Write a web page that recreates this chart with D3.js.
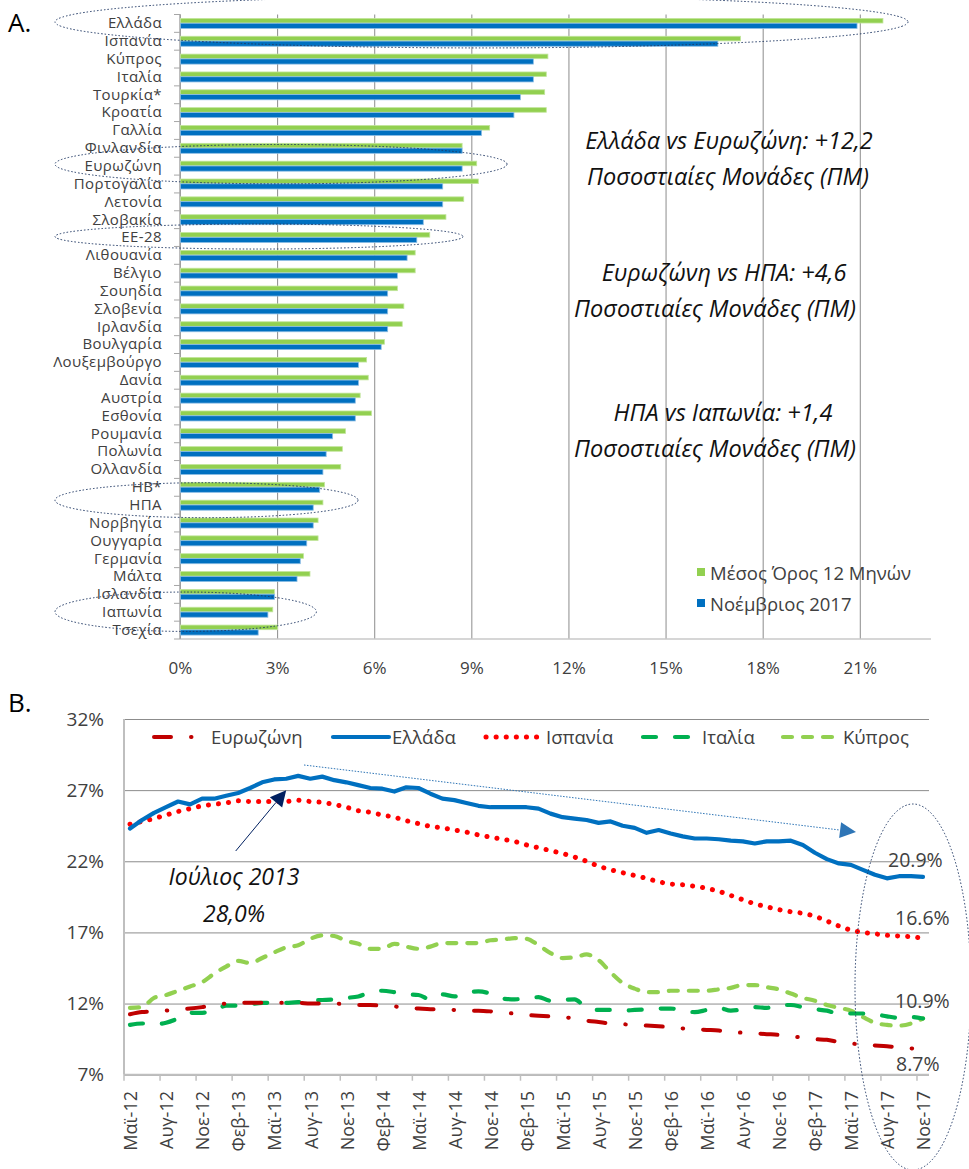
<!DOCTYPE html>
<html>
<head>
<meta charset="utf-8">
<script src="https://cdn.jsdelivr.net/npm/d3@7"></script>
<style>
  body { margin: 0; background: #fff; }
  text { font-family: "Open Sans", sans-serif; fill: #404040; }
</style>
</head>
<body>
<script>
const w = 969;
const h = 1169;

// ---- A. unemployment by country ----
const countries = ["Ελλάδα", "Ισπανία", "Κύπρος", "Ιταλία", "Τουρκία*", "Κροατία", "Γαλλία", "Φινλανδία",
    "Ευρωζώνη", "Πορτογαλία", "Λετονία", "Σλοβακία", "ΕΕ-28", "Λιθουανία", "Βέλγιο", "Σουηδία", "Σλοβενία",
    "Ιρλανδία", "Βουλγαρία", "Λουξεμβούργο", "Δανία", "Αυστρία", "Εσθονία", "Ρουμανία", "Πολωνία",
    "Ολλανδία", "ΗΒ*", "ΗΠΑ", "Νορβηγία", "Ουγγαρία", "Γερμανία", "Μάλτα", "Ισλανδία", "Ιαπωνία", "Τσεχία"];
const avg12m = [21.7, 17.3, 11.35, 11.3, 11.25, 11.3, 9.55, 8.7, 9.15, 9.2, 8.75, 8.2, 7.7, 7.25, 7.25,
    6.7, 6.9, 6.85, 6.3, 5.75, 5.8, 5.55, 5.9, 5.1, 5.0, 4.95, 4.45, 4.4, 4.25, 4.25, 3.8, 4.0, 2.9, 2.85, 3.0];
const nov2017 = [20.9, 16.6, 10.9, 10.9, 10.5, 10.3, 9.3, 8.7, 8.7, 8.1, 8.1, 7.5, 7.3, 7.0, 6.7,
    6.4, 6.4, 6.4, 6.2, 5.5, 5.5, 5.4, 5.4, 4.7, 4.5, 4.4, 4.3, 4.1, 4.1, 3.9, 3.7, 3.6, 2.9, 2.7, 2.4];
const xTicksA = [0, 3, 6, 9, 12, 15, 18, 21];
const legendA = ["Μέσος Όρος 12 Μηνών", "Νοέμβριος 2017"];
const notesA = [
    ["Ελλάδα vs Ευρωζώνη: +12,2", "Ποσοστιαίες Μονάδες (ΠΜ)"],
    ["Ευρωζώνη vs ΗΠΑ: +4,6", "Ποσοστιαίες Μονάδες (ΠΜ)"],
    ["ΗΠΑ vs Ιαπωνία: +1,4", "Ποσοστιαίες Μονάδες (ΠΜ)"]
];

// ---- B. monthly unemployment ----
const months = [
    "Μαϊ-12", "Ιουν-12", "Ιουλ-12", "Αυγ-12", "Σεπ-12", "Οκτ-12", "Νοε-12", "Δεκ-12",
    "Ιαν-13", "Φεβ-13", "Μαρ-13", "Απρ-13", "Μαϊ-13", "Ιουν-13", "Ιουλ-13", "Αυγ-13", "Σεπ-13", "Οκτ-13", "Νοε-13", "Δεκ-13",
    "Ιαν-14", "Φεβ-14", "Μαρ-14", "Απρ-14", "Μαϊ-14", "Ιουν-14", "Ιουλ-14", "Αυγ-14", "Σεπ-14", "Οκτ-14", "Νοε-14", "Δεκ-14",
    "Ιαν-15", "Φεβ-15", "Μαρ-15", "Απρ-15", "Μαϊ-15", "Ιουν-15", "Ιουλ-15", "Αυγ-15", "Σεπ-15", "Οκτ-15", "Νοε-15", "Δεκ-15",
    "Ιαν-16", "Φεβ-16", "Μαρ-16", "Απρ-16", "Μαϊ-16", "Ιουν-16", "Ιουλ-16", "Αυγ-16", "Σεπ-16", "Οκτ-16", "Νοε-16", "Δεκ-16",
    "Ιαν-17", "Φεβ-17", "Μαρ-17", "Απρ-17", "Μαϊ-17", "Ιουν-17", "Ιουλ-17", "Αυγ-17", "Σεπ-17", "Οκτ-17", "Νοε-17"];
const tickMonths = ["Μαϊ-12", "Αυγ-12", "Νοε-12", "Φεβ-13", "Μαϊ-13", "Αυγ-13", "Νοε-13", "Φεβ-14", "Μαϊ-14",
    "Αυγ-14", "Νοε-14", "Φεβ-15", "Μαϊ-15", "Αυγ-15", "Νοε-15", "Φεβ-16", "Μαϊ-16", "Αυγ-16", "Νοε-16",
    "Φεβ-17", "Μαϊ-17", "Αυγ-17", "Νοε-17"];
const yTicksB = [7, 12, 17, 22, 27, 32];

const eurozone = [11.25, 11.4, 11.45, 11.5, 11.6, 11.65, 11.75, 11.9, 12.0, 12.05, 12.05, 12.05, 12.05, 12.05,
    12.05, 12.0, 12.0, 12.0, 11.95, 11.9, 11.9, 11.85, 11.8, 11.7, 11.65, 11.6, 11.6, 11.55, 11.5, 11.5, 11.45,
    11.35, 11.3, 11.2, 11.15, 11.1, 11.05, 10.95, 10.8, 10.7, 10.6, 10.55, 10.5, 10.45, 10.4, 10.35, 10.25, 10.2,
    10.15, 10.1, 10.0, 9.95, 9.9, 9.85, 9.8, 9.7, 9.6, 9.5, 9.45, 9.3, 9.2, 9.1, 9.05, 9.0, 8.9, 8.85, 8.75];
const greece = [24.3, 24.9, 25.4, 25.8, 26.2, 26.0, 26.4, 26.4, 26.6, 26.8, 27.15, 27.55, 27.75, 27.8, 28.0,
    27.8, 27.95, 27.7, 27.55, 27.35, 27.15, 27.1, 26.9, 27.2, 27.15, 26.75, 26.4, 26.3, 26.1, 25.9, 25.8, 25.8,
    25.8, 25.8, 25.7, 25.35, 25.1, 25.0, 24.9, 24.7, 24.8, 24.5, 24.35, 24.0, 24.2, 23.95, 23.75, 23.6, 23.6,
    23.55, 23.45, 23.4, 23.25, 23.4, 23.4, 23.45, 23.15, 22.6, 22.15, 21.85, 21.75, 21.4, 21.05, 20.8, 20.95,
    20.95, 20.9];
const spain = [24.6, 24.8, 25.0, 25.25, 25.5, 25.7, 25.9, 26.0, 26.1, 26.25, 26.2, 26.2, 26.2, 26.2, 26.3,
    26.2, 26.15, 26.0, 25.8, 25.55, 25.45, 25.25, 25.1, 24.85, 24.65, 24.45, 24.35, 24.2, 24.05, 23.85, 23.7,
    23.55, 23.4, 23.15, 22.95, 22.75, 22.55, 22.3, 22.0, 21.65, 21.4, 21.2, 21.0, 20.8, 20.55, 20.4, 20.35,
    20.25, 20.1, 19.9, 19.6, 19.3, 19.0, 18.8, 18.6, 18.45, 18.35, 18.15, 17.8, 17.45, 17.15, 17.0, 16.9, 16.8,
    16.75, 16.7, 16.6];
const italy = [10.5, 10.6, 10.55, 10.65, 10.95, 11.35, 11.35, 11.5, 11.85, 11.85, 11.95, 12.05, 12.05, 12.05,
    12.1, 12.2, 12.25, 12.3, 12.4, 12.5, 12.8, 12.9, 12.8, 12.65, 12.6, 12.3, 12.65, 12.5, 12.8, 12.85, 12.7,
    12.35, 12.3, 12.35, 12.45, 12.2, 12.25, 12.3, 11.7, 11.55, 11.55, 11.5, 11.55, 11.6, 11.65, 11.65, 11.5,
    11.4, 11.55, 11.7, 11.5, 11.6, 11.75, 11.7, 11.9, 11.9, 11.75, 11.6, 11.5, 11.3, 11.3, 11.3, 11.25, 11.1,
    11.0, 11.05, 10.95];
const cyprus = [11.7, 11.75, 12.4, 12.6, 12.9, 13.2, 13.5, 14.1, 14.6, 15.0, 14.85, 15.2, 15.6, 15.95, 16.1,
    16.55, 16.8, 16.75, 16.4, 16.2, 15.85, 15.85, 16.2, 16.0, 15.85, 16.0, 16.25, 16.25, 16.25, 16.25, 16.45,
    16.5, 16.6, 16.55, 16.1, 15.55, 15.2, 15.25, 15.45, 15.05, 14.2, 13.45, 13.05, 12.8, 12.8, 12.9, 12.9, 12.9,
    12.9, 13.0, 13.1, 13.3, 13.3, 13.15, 13.0, 12.7, 12.4, 12.2, 11.9, 11.7, 11.5, 11.05, 10.65, 10.5, 10.45,
    10.6, 10.95];
const seriesNames = ["Ευρωζώνη", "Ελλάδα", "Ισπανία", "Ιταλία", "Κύπρος"];
const endLabels = ["20.9%", "16.6%", "10.9%", "8.7%"];

const svg = d3.select('body').append('svg').attr('width', w).attr('height', h);
svg.append('rect').attr('width', w).attr('height', h).attr('fill', '#fff');

// ================= chart A =================
const xA = d3.scaleLinear().domain([0, 23.2]).range([180, 931]);
const yA = d3.scaleBand().domain(countries).range([14.5, 639]);
const stepA = yA.step();

const gridA = svg.append('g')
    .attr('transform', 'translate(0,639)')
    .call(d3.axisBottom(xA).tickValues(xTicksA).tickSize(-(639 - 14.5)).tickPadding(23).tickFormat(d => d + '%'));
gridA.select('.domain').remove();
gridA.selectAll('line').attr('stroke', '#8c8c8c');
gridA.selectAll('text').attr('font-size', '17px').attr('font-family', '"Open Sans", sans-serif').attr('fill', '#404040');

svg.append('line').attr('x1', 180).attr('x2', 931).attr('y1', 639).attr('y2', 639).attr('stroke', '#c8c8c8').attr('stroke-width', 1.5);
svg.append('line').attr('x1', 180).attr('x2', 180).attr('y1', 14.5).attr('y2', 639).attr('stroke', '#a6a6a6').attr('stroke-width', 1.5);

// category tick marks on band edges
svg.append('g').selectAll('line')
    .data(d3.range(countries.length + 1))
    .enter()
    .append('line')
    .attr('x1', 174).attr('x2', 180)
    .attr('y1', k => 14.5 + k * stepA).attr('y2', k => 14.5 + k * stepA)
    .attr('stroke', '#a6a6a6');

const labA = svg.append('g')
    .attr('transform', 'translate(180,0)')
    .call(d3.axisLeft(yA).tickSize(0).tickPadding(18));
labA.select('.domain').remove();
labA.selectAll('text')
    .attr('font-size', '15px')
    .attr('letter-spacing', '0.4px')
    .attr('font-family', '"Open Sans", sans-serif')
    .attr('fill', '#404040');

const barsA = svg.append('g');
barsA.selectAll('.g')
    .data(countries)
    .enter()
    .append('rect')
    .attr('x', xA(0) + 0.5)
    .attr('y', d => yA(d) + stepA / 2 - 5)
    .attr('width', (d, i) => xA(avg12m[i]) - xA(0))
    .attr('height', 4.6)
    .attr('fill', '#92D050')
    .attr('stroke', '#c2e59c').attr('stroke-width', 0.8);
barsA.selectAll('.b')
    .data(countries)
    .enter()
    .append('rect')
    .attr('x', xA(0) + 0.5)
    .attr('y', d => yA(d) + stepA / 2 - 0.2)
    .attr('width', (d, i) => xA(nov2017[i]) - xA(0))
    .attr('height', 5.2)
    .attr('fill', '#0070C0')
    .attr('stroke', '#8cbde4').attr('stroke-width', 0.8);

// legend A
const legA = svg.append('g');
legA.selectAll('rect')
    .data(legendA)
    .enter()
    .append('rect')
    .attr('x', 697).attr('y', (d, i) => 568 + i * 31)
    .attr('width', 8).attr('height', 8)
    .attr('fill', (d, i) => i === 0 ? '#92D050' : '#0070C0');
legA.selectAll('text')
    .data(legendA)
    .enter()
    .append('text')
    .attr('x', 710).attr('y', (d, i) => 580 + i * 30.5)
    .attr('font-size', '18.5px')
    .text(d => d);

// notes A
const noteX = [[729, 728], [724, 715], [723, 715]];
const noteY = [149, 281, 421];
notesA.forEach((pair, i) => {
    pair.forEach((t, j) => {
        svg.append('text')
            .attr('x', noteX[i][j]).attr('y', noteY[i] + j * 36)
            .attr('text-anchor', 'middle')
            .attr('font-size', '23.5px')
            .attr('font-style', 'italic')
            .style('fill', '#111')
            .text(t);
    });
});

// dotted ellipses
const ringsA = [
    {c: "Ελλάδα", cx: 481.5, dy: -1.5, rx: 426.5, ry: 26},
    {c: "Ευρωζώνη", cx: 281, dy: -2, rx: 226, ry: 19.7},
    {c: "ΕΕ-28", cx: 259, dy: -1, rx: 204, ry: 12.5},
    {c: "ΗΠΑ", cx: 206.5, dy: -5, rx: 151.5, ry: 17.5},
    {c: "Ιαπωνία", cx: 185.7, dy: -0.5, rx: 130.7, ry: 19.7}
];
svg.append('g').selectAll('ellipse')
    .data(ringsA)
    .enter()
    .append('ellipse')
    .attr('cx', d => d.cx)
    .attr('cy', d => yA(d.c) + stepA / 2 + d.dy)
    .attr('rx', d => d.rx).attr('ry', d => d.ry)
    .attr('fill', 'none')
    .attr('stroke', '#203864')
    .attr('stroke-width', 1)
    .attr('stroke-dasharray', '1.5 2');

svg.append('text').attr('x', 8).attr('y', 32).attr('font-size', '26px').style('fill', '#000').text('A.');

// ================= chart B =================
const xB = d3.scaleBand().domain(months).range([124, 929]);
const bw = xB.bandwidth();
const yB = d3.scaleLinear().domain([7, 32]).range([1074.7, 719]);
const mx = i => xB(months[i]) + bw / 2;

const gridB = svg.append('g')
    .attr('transform', 'translate(124,0)')
    .call(d3.axisLeft(yB).tickValues(yTicksB).tickSize(-(929 - 124)).tickPadding(20).tickFormat(d => d + '%'));
gridB.select('.domain').remove();
gridB.selectAll('line').attr('stroke', '#8c8c8c');
gridB.selectAll('text').attr('font-size', '19px').attr('font-family', '"Open Sans", sans-serif').attr('fill', '#404040');

svg.append('line').attr('x1', 124).attr('x2', 929).attr('y1', yB(7)).attr('y2', yB(7)).attr('stroke', '#bfbfbf').attr('stroke-width', 2);
svg.append('line').attr('x1', 124).attr('x2', 124).attr('y1', yB(32)).attr('y2', yB(7)).attr('stroke', '#bfbfbf').attr('stroke-width', 2);

const xAxB = svg.append('g');
xAxB.selectAll('line')
    .data(tickMonths)
    .enter()
    .append('line')
    .attr('x1', d => xB(d)).attr('x2', d => xB(d))
    .attr('y1', yB(7)).attr('y2', yB(7) + 6)
    .attr('stroke', '#bfbfbf').attr('stroke-width', 1.5);
xAxB.selectAll('text')
    .data(tickMonths)
    .enter()
    .append('text')
    .attr('transform', d => `translate(${xB(d) + bw / 2 + 1},1091) rotate(-90)`)
    .attr('text-anchor', 'end')
    .attr('dy', '0.35em')
    .attr('font-size', '18px')
    .text(d => d);

const styles = [
    {data: eurozone, color: '#C00000', dash: '17 20 0.5 20', curve: d3.curveMonotoneX, width: 4},
    {data: greece, color: '#0070C0', dash: null, curve: d3.curveLinear, width: 4.2},
    {data: spain, color: '#FF0000', dash: '0.1 10', curve: d3.curveLinear, width: 5},
    {data: italy, color: '#00B050', dash: '13 19', curve: d3.curveMonotoneX, width: 4.2},
    {data: cyprus, color: '#92D050', dash: '9 11', curve: d3.curveMonotoneX, width: 4.2}
];
const drawOrder = [4, 3, 0, 2, 1];
drawOrder.forEach(k => {
    const s = styles[k];
    const line = d3.line().x((d, i) => mx(i)).y(d => yB(d)).curve(s.curve);
    svg.append('path')
        .datum(s.data)
        .attr('d', line)
        .attr('fill', 'none')
        .attr('stroke', s.color)
        .attr('stroke-width', s.width)
        .attr('stroke-linecap', 'round')
        .attr('stroke-linejoin', 'round')
        .attr('stroke-dasharray', s.dash);
});

// legend B
const legX = [154, 333, 486, 643, 783];
const legW = [46, 56, 54, 55, 53];
const legTx = [211, 392, 546, 702, 843];
seriesNames.forEach((n, i) => {
    const s = styles[i];
    svg.append('line')
        .attr('x1', legX[i]).attr('x2', legX[i] + legW[i])
        .attr('y1', 737).attr('y2', 737)
        .attr('stroke', s.color)
        .attr('stroke-width', s.width)
        .attr('stroke-linecap', 'round')
        .attr('stroke-dasharray', s.dash);
    svg.append('text').attr('x', legTx[i]).attr('y', 743.5).attr('font-size', '18.5px').text(n);
});

// end value labels
const endX = [888, 895, 895, 896];
const endY = [867, 925, 1008, 1071];
endLabels.forEach((t, i) => {
    svg.append('text').attr('x', endX[i]).attr('y', endY[i]).attr('font-size', '19.5px').text(t);
});

// arrows
function arrow(x1, y1, x2, y2, color, len, half, dash) {
    const dx = x2 - x1, dy = y2 - y1;
    const L = Math.hypot(dx, dy);
    const ux = dx / L, uy = dy / L;
    const bx = x2 - ux * len, by = y2 - uy * len;
    svg.append('line')
        .attr('x1', x1).attr('y1', y1).attr('x2', bx).attr('y2', by)
        .attr('stroke', color).attr('stroke-width', 1)
        .attr('stroke-dasharray', dash);
    svg.append('path')
        .attr('d', `M${x2},${y2}L${bx - uy * half},${by + ux * half}L${bx + uy * half},${by - ux * half}Z`)
        .attr('fill', color);
}
arrow(235.7, 851, mx(13), yB(27), '#002060', 16, 8, null);
arrow(304, 765, 856, 832, '#2E75B6', 16, 8, '1.5 1.5');

svg.append('text').attr('x', 234).attr('y', 885).attr('text-anchor', 'middle')
    .attr('font-size', '23px').attr('font-style', 'italic').style('fill', '#111').text('Ιούλιος 2013');
svg.append('text').attr('x', 234).attr('y', 922).attr('text-anchor', 'middle')
    .attr('font-size', '23px').attr('font-style', 'italic').style('fill', '#111').text('28,0%');

svg.append('ellipse')
    .attr('cx', 913).attr('cy', 987).attr('rx', 58).attr('ry', 183)
    .attr('fill', 'none').attr('stroke', '#203864').attr('stroke-width', 1)
    .attr('stroke-dasharray', '1.5 2');

svg.append('text').attr('x', 8).attr('y', 712).attr('font-size', '26px').style('fill', '#000').text('B.');
</script>
</body>
</html>
